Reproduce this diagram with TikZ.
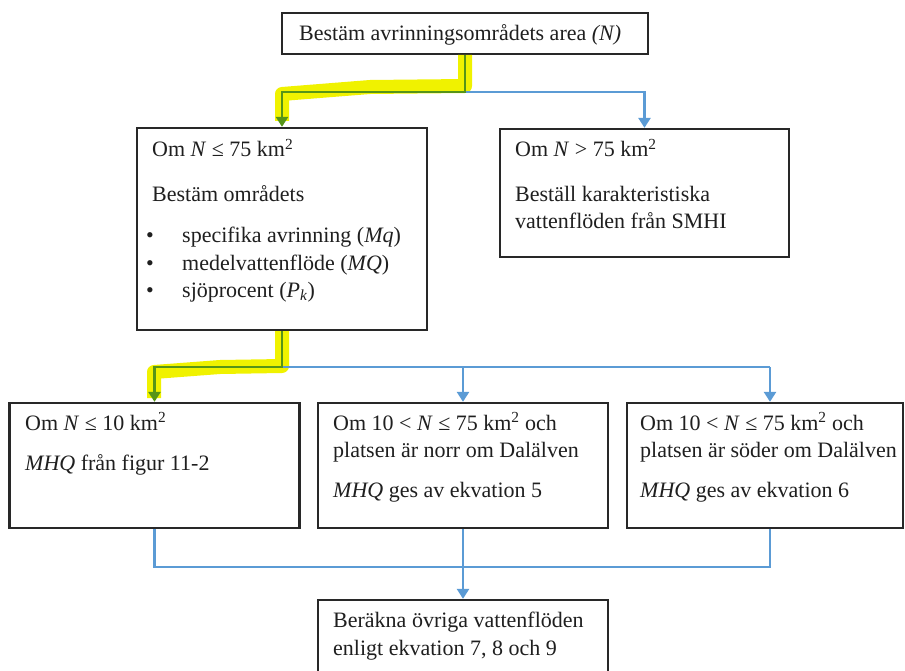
\documentclass[tikz,border=0pt]{standalone}
\usepackage{fontspec}
\setmainfont{Liberation Serif}
\usetikzlibrary{arrows.meta}
\definecolor{lnblue}{RGB}{91,155,213}
\definecolor{lngreen}{RGB}{86,148,24}
\definecolor{hilite}{RGB}{240,242,0}
\definecolor{boxc}{RGB}{40,40,40}
\begin{document}
\begin{tikzpicture}[x=1pt,y=-1pt,
  box/.style={draw=boxc, line width=2.3pt, inner sep=0pt, fill=white},
  txt/.style={anchor=base west, inner sep=0pt, font=\fontsize{22}{27}\selectfont, text=black!88},
  blueln/.style={draw=lnblue, line width=2.6pt},
  greenln/.style={draw=lngreen, line width=2.6pt},
  tipb/.style={-{Triangle[width=12pt,length=10pt]}},
  hl/.style={draw=hilite, line width=14pt, line join=round, line cap=butt}]
\useasboundingbox (0,0) rectangle (905,671);
\clip (0,0) rectangle (905,671);

% boxes
\node[box, minimum width=366pt, minimum height=41pt] (top) at (465,33.5) {};
\node[box, minimum width=290pt, minimum height=202pt] (midL) at (282,229) {};
\node[box, minimum width=289pt, minimum height=128pt] (midR) at (644.5,193) {};
\node[box, minimum width=290pt, minimum height=125pt] (botA) at (154.5,465.5) {};
\node[box, minimum width=290pt, minimum height=125pt] (botB) at (463,465.5) {};
\node[box, minimum width=276pt, minimum height=125pt] (botC) at (765,465.5) {};
\node[box, minimum width=290pt, minimum height=120pt] (fin) at (463,660) {};

% highlights
\draw[hl] (465,55) -- (465,86) -- (370,87) -- (282,94) -- (282,121);
\draw[hl] (282,331) -- (282,366) -- (220,367) -- (154,372) -- (154,398);

% connectors from top
\draw[blueln, tipb] (top.south) |- (465,92) -| (midR.north);
\draw[greenln, tipb] (top.south) |- (282,92) -- (midL.north);

% connectors from midL
\coordinate (j2) at (282,367);
\draw[blueln] (j2) -- (770,367);
\draw[blueln, tipb] (463,367) -- (botB.north);
\draw[blueln, tipb] (770,367) -- ([xshift=5pt]botC.north);
\draw[greenln, tipb] (midL.south) -- (j2) -| (botA.north);

% bottom merge
\coordinate (j3) at (463,567);
\draw[blueln] (botA.south) |- (j3) -| ([xshift=5pt]botC.south);
\draw[blueln, tipb] (botB.south) -- (fin.north);

% texts
\node[txt] (t0) at (299,41) {Bestäm avrinningsområdets area \textit{(N)}};

\node[txt] (l1) at (152,157) {Om \textit{N} ≤ 75 km\textsuperscript{2}};
\node[txt] (l2) at (152,202) {Bestäm områdets};
\node[txt] (b1) at (146,243) {•};
\node[txt] (b2) at (146,270) {•};
\node[txt] (b3) at (146,297) {•};
\node[txt] (l3) at (182,243) {specifika avrinning (\textit{Mq})};
\node[txt] (l4) at (182,270) {medelvattenflöde (\textit{MQ})};
\node[txt] (l5) at (182,297) {sjöprocent (\textit{P}\textsubscript{\textit{k}})};

\node[txt] (r1) at (515,157) {Om \textit{N} > 75 km\textsuperscript{2}};
\node[txt] (r2) at (515,202) {Beställ karakteristiska};
\node[txt] (r3) at (515,229) {vattenflöden från SMHI};

\node[txt] (a1) at (25,430) {Om \textit{N} ≤ 10 km\textsuperscript{2}};
\node[txt] (a2) at (25,470) {\textit{MHQ} från figur 11-2};

\node[txt] (c1) at (333,430) {Om 10 < \textit{N} ≤ 75 km\textsuperscript{2} och};
\node[txt] (c2) at (333,457) {platsen är norr om Dalälven};
\node[txt] (c3) at (333,497) {\textit{MHQ} ges av ekvation 5};

\node[txt] (d1) at (640,430) {Om 10 < \textit{N} ≤ 75 km\textsuperscript{2} och};
\node[txt] (d2) at (640,457) {platsen är söder om Dalälven};
\node[txt] (d3) at (640,497) {\textit{MHQ} ges av ekvation 6};

\node[txt] (f1) at (333,627) {Beräkna övriga vattenflöden};
\node[txt] (f2) at (333,655) {enligt ekvation 7, 8 och 9};
\end{tikzpicture}
\end{document}
